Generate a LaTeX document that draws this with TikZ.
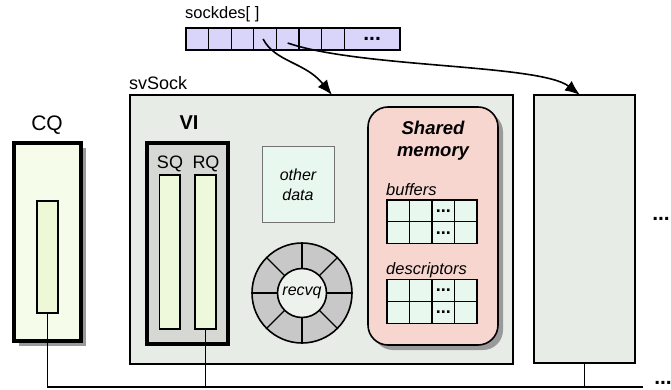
\documentclass[tikz,border=0pt]{standalone}
\usepackage{fontspec}
\setmainfont{Liberation Sans}
\usetikzlibrary{arrows.meta,shadows}

\definecolor{sockbg}{HTML}{E8ECE6}
\definecolor{vibg}{HTML}{D6D8D4}
\definecolor{qfill}{HTML}{EEF8DA}
\definecolor{cqbg}{HTML}{F5FCE9}
\definecolor{cqin}{HTML}{EDF9D6}
\definecolor{mint}{HTML}{E8F8EE}
\definecolor{ringgray}{HTML}{C8C8C8}
\definecolor{ringin}{HTML}{EEF2EC}
\definecolor{shmem}{HTML}{F8D6D0}
\definecolor{lavender}{HTML}{D8D4FA}
\definecolor{shadowgray}{HTML}{9A9A9A}

\tikzset{
  outerbox/.style={draw, line width=2.3pt, fill=sockbg, inner sep=0pt},
  thickbox/.style={draw, line width=3.4pt, inner sep=0pt},
  qbox/.style={draw, line width=1.6pt, fill=qfill, inner sep=0pt},
  cellbox/.style={draw, line width=1.3pt, inner sep=0pt},
  lbl/.style={inner sep=0pt},
  wire/.style={line width=1.8pt},
  ptr/.style={line width=1.6pt, -{Latex[length=15pt,width=12pt]}},
  greyshadow/.style={drop shadow={shadow xshift=5pt, shadow yshift=-5pt, fill=shadowgray, opacity=1}},
  dots/.style={inner sep=0pt, font=\bfseries\fontsize{21}{21}\selectfont},
  celldots/.style={inner sep=0pt, font=\bfseries\fontsize{18}{18}\selectfont}
}

\begin{document}
\begin{tikzpicture}[x=1pt,y=-1pt]
\useasboundingbox (0,0) rectangle (671,390);

% ---------- sockdes[] array ----------
\node[lbl, anchor=west, font=\fontsize{16.5}{16.5}\selectfont] (sdlabel) at (185,14) {sockdes[ ]};
\foreach \i in {1,...,7} {
  \node[cellbox, fill=lavender, minimum width=22.6, minimum height=22]
    (c\i) at ({186+22.6*(\i-0.5)},39) {};
}
\node[cellbox, fill=lavender, minimum width=55.8, minimum height=22] (c8) at (372.1,39) {};
\node[dots] at (c8.center) {...};

% ---------- CQ ----------
\node[lbl, font=\fontsize{21}{21}\selectfont] (cqlabel) at (47,125) {CQ};
\node[thickbox, fill=cqbg, greyshadow, minimum width=67, minimum height=198] (cq) at (47.5,242) {};
\node[qbox, fill=cqin, minimum width=21, minimum height=112] (cqq) at (47.5,257) {};

% ---------- svSock ----------
\node[lbl, anchor=west, font=\fontsize{18}{18}\selectfont] (svlabel) at (129,83) {svSock};
\node[outerbox, minimum width=383, minimum height=269] (svsock) at (321.5,229.5) {};

% VI with its two queues
\node[lbl, font=\bfseries\fontsize{20}{20}\selectfont] (vilabel) at (189,123) {VI};
\node[thickbox, fill=vibg, minimum width=81, minimum height=201] (vi) at (187.5,243.5) {};
\node[lbl, font=\fontsize{18}{18}\selectfont] (sqlabel) at (170,164) {SQ};
\node[lbl, font=\fontsize{18}{18}\selectfont] (rqlabel) at (206,164) {RQ};
\node[qbox, minimum width=20.5, minimum height=154] (sq) at (169.75,252) {};
\node[qbox, minimum width=20.5, minimum height=154] (rq) at (205.5,252) {};

% other data
\node[draw=black!55, line width=1pt, fill=mint, minimum width=72, minimum height=75,
      align=center, font=\itshape\fontsize{16}{20}\selectfont] (other) at (298,184.5) {other\\data};

% recvq ring buffer
\node[circle, draw, line width=1.6pt, fill=ringgray, minimum size=100, inner sep=0pt] (ring) at (302,293) {};
\foreach \a in {0,45,...,315} {
  \draw[line width=1.3pt] ([shift={(\a:24)}]ring.center) -- ([shift={(\a:49.5)}]ring.center);
}
\node[circle, draw, line width=1.6pt, fill=ringin, minimum size=49, inner sep=0pt,
      font=\itshape\fontsize{16}{16}\selectfont] (recvq) at (ring.center) {recvq};

% shared memory
\node[draw, line width=1.6pt, fill=shmem, rounded corners=20pt, greyshadow,
      minimum width=130, minimum height=238] (shm) at (433,226) {};
\node[lbl, align=center, font=\bfseries\itshape\fontsize{18.5}{22}\selectfont] (shmlabel) at (433,141) {Shared\\memory};

\node[lbl, anchor=west, font=\itshape\fontsize{16.5}{16.5}\selectfont] (buflabel) at (386,190) {buffers};
\node[lbl, anchor=west, font=\itshape\fontsize{16.5}{16.5}\selectfont] (desclabel) at (386,270) {descriptors};
\foreach \r in {1,2} {
  \foreach \c in {1,...,4} {
    \node[cellbox, fill=mint, minimum width=22.5, minimum height=21.8]
      (b\r\c) at ({387+22.5*(\c-0.5)},{200+21.8*(\r-0.5)}) {};
    \node[cellbox, fill=mint, minimum width=22.5, minimum height=22]
      (d\r\c) at ({387+22.5*(\c-0.5)},{279.5+22*(\r-0.5)}) {};
  }
  \node[celldots] at (b\r3.center) {...};
  \node[celldots] at (d\r3.center) {...};
}

% ---------- next socket ----------
\node[outerbox, minimum width=101, minimum height=268] (next) at (584.5,229) {};
\node[dots] (moreR) at (661,219) {...};

% ---------- bus ----------
\coordinate (busR) at (643,387);
\draw[wire] (cqq.south) |- (busR);
\draw[wire] (rq.south) -- (rq.south |- busR);
\draw[wire] (next.south) -- (next.south |- busR);
\node[dots] (moreB) at (663,383) {...};

% ---------- pointers from sockdes[] ----------
\coordinate (svin) at (332,95);
\coordinate (nextin) at (580,95);
\draw[ptr] ([xshift=-2pt]c4.center) .. controls (275,62) and (305,62) .. (svin);
\draw[ptr] ([yshift=-4pt]c5.center) .. controls (360,68) and (540,64) .. (nextin);
\end{tikzpicture}
\end{document}
